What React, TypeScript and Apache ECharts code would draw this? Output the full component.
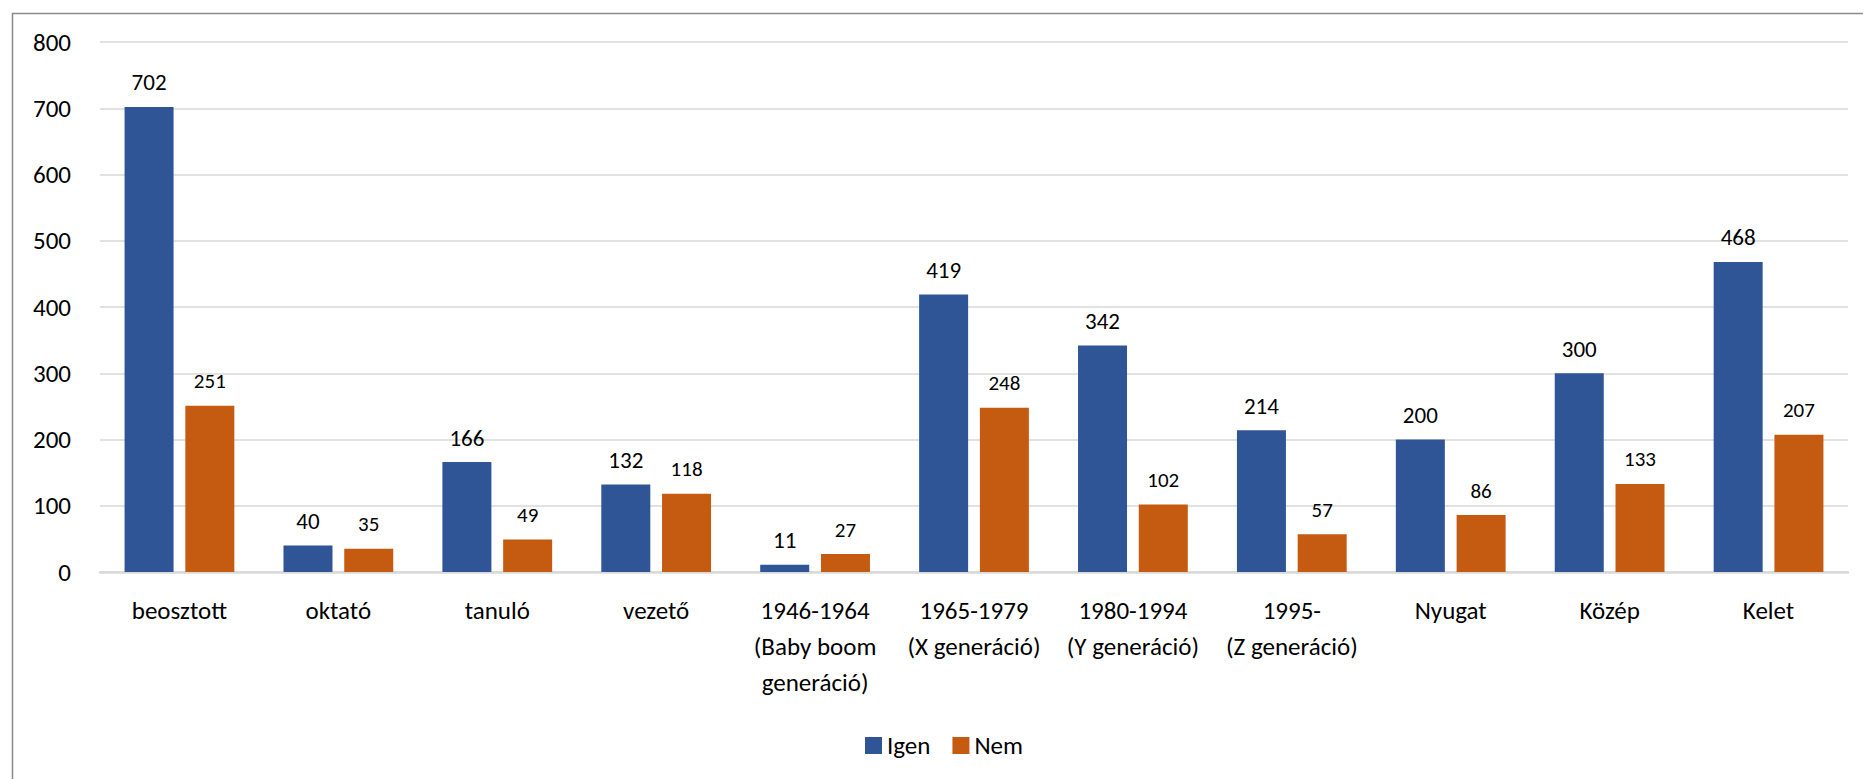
import React, { useEffect, useRef } from "react";
import * as echarts from "echarts";

const categories = [
  "beosztott",
  "oktató",
  "tanuló",
  "vezető",
  "1946-1964\n(Baby boom\ngeneráció)",
  "1965-1979\n(X generáció)",
  "1980-1994\n(Y generáció)",
  "1995-\n(Z generáció)",
  "Nyugat",
  "Közép",
  "Kelet",
];
const igenValues = [702, 40, 166, 132, 11, 419, 342, 214, 200, 300, 468];
const nemValues = [251, 35, 49, 118, 27, 248, 102, 57, 86, 133, 207];
const yTicks = { min: 0, max: 800, interval: 100 };

const FONT = "Carlito, Lato, 'Noto Sans', sans-serif";

export default function App() {
  const ref = useRef<HTMLDivElement>(null);
  useEffect(() => {
    document.body.style.margin = "0";
    const chart = echarts.init(ref.current!, null, { renderer: "svg" });
    chart.setOption({
      animation: false,
      backgroundColor: "#ffffff",
      textStyle: { fontFamily: FONT },
      graphic: [
        {
          type: "rect",
          left: 10,
          top: 11,
          shape: { width: 1900, height: 900 },
          style: { fill: "none", stroke: "#8a8a8a", lineWidth: 1.5 },
          silent: true,
        },
      ],
      grid: { left: 100, right: 15, top: 42, bottom: 207, containLabel: false },
      legend: {
        left: 860,
        top: 728,
        icon: "rect",
        itemWidth: 17,
        itemHeight: 17,
        itemGap: 22,
        textStyle: { fontFamily: FONT, fontSize: 25, color: "#000" },
        data: ["Igen", "Nem"],
      },
      xAxis: {
        type: "category",
        data: categories,
        axisLine: { lineStyle: { color: "#d9d9d9", width: 2.5 } },
        axisTick: { show: false },
        axisLabel: {
          interval: 0,
          margin: 20,
          fontFamily: FONT,
          fontSize: 25,
          lineHeight: 36,
          color: "#000",
        },
      },
      yAxis: {
        type: "value",
        min: yTicks.min,
        max: yTicks.max,
        interval: yTicks.interval,
        axisLine: { show: false },
        axisTick: { show: false },
        splitLine: { lineStyle: { color: "#d9d9d9", width: 1.5 } },
        axisLabel: { margin: 29, fontFamily: FONT, fontSize: 25, color: "#000" },
      },
      series: [
        {
          name: "Igen",
          type: "bar",
          data: igenValues,
          barWidth: 49,
          barGap: "24%",
          itemStyle: { color: "#2f5597" },
          label: {
            show: true,
            position: "top",
            distance: 13,
            fontFamily: FONT,
            fontSize: 23,
            color: "#000",
          },
        },
        {
          name: "Nem",
          type: "bar",
          data: nemValues,
          barWidth: 49,
          itemStyle: { color: "#c55a11" },
          label: {
            show: true,
            position: "top",
            distance: 14,
            fontFamily: FONT,
            fontSize: 21,
            color: "#000",
          },
        },
      ],
    });
    return () => chart.dispose();
  }, []);
  return <div ref={ref} style={{ width: 1863, height: 779 }} />;
}
